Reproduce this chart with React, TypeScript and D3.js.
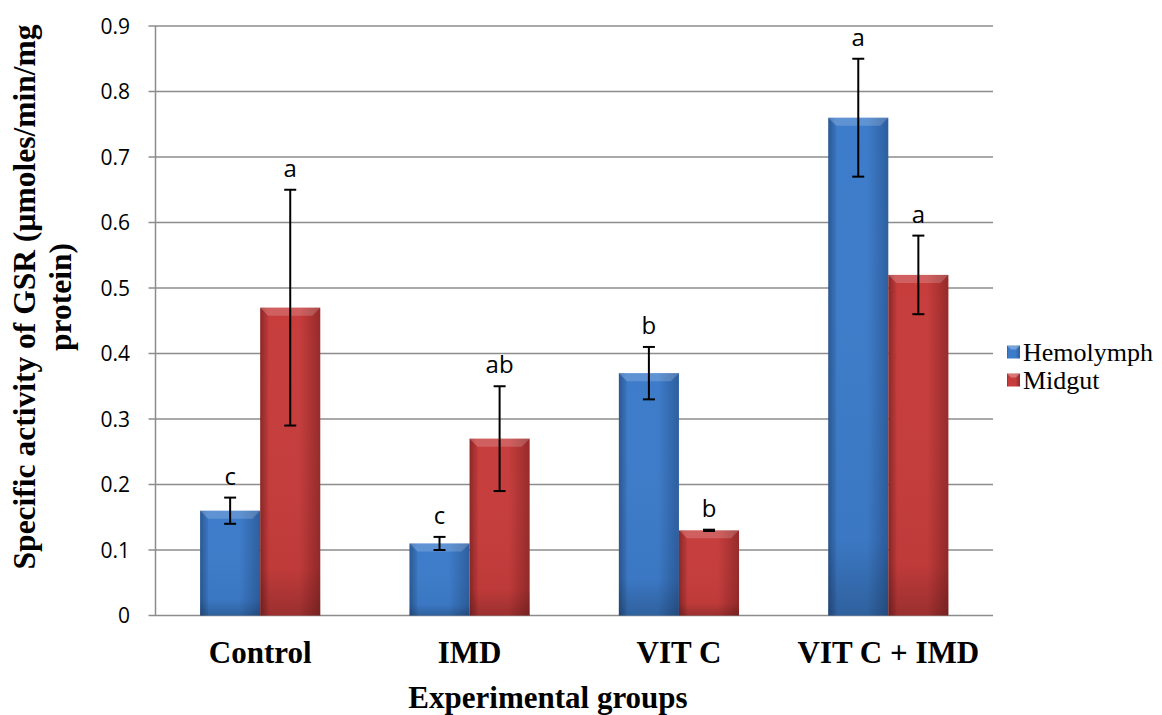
import React, { useEffect, useRef } from 'react';
import * as d3 from 'd3';

const groups = ['Control', 'IMD', 'VIT C', 'VIT C + IMD'];
const seriesNames = ['Hemolymph', 'Midgut'];
const hemolymph = [0.16, 0.11, 0.37, 0.76];
const hemolymphErr = [0.02, 0.01, 0.04, 0.09];
const hemolymphLetters = ['c', 'c', 'b', 'a'];
const midgut = [0.47, 0.27, 0.13, 0.52];
const midgutErr = [0.18, 0.08, 0.001, 0.06];
const midgutLetters = ['a', 'ab', 'b', 'a'];
const yTicks = [0, 0.1, 0.2, 0.3, 0.4, 0.5, 0.6, 0.7, 0.8, 0.9];

const App = () => {
  const svgRef = useRef<SVGSVGElement>(null);

  useEffect(() => {
    const svg = d3.select(svgRef.current);
    svg.selectAll('*').remove();

    const width = 1162;
    const height = 715;
    const left = 155.5;
    const right = 993;
    const top = 26;
    const bottom = 615.5;

    const sans = "'Open Sans', 'DejaVu Sans', sans-serif";
    const serif = "'Liberation Serif', 'Times New Roman', serif";

    const defs = svg.append('defs');
    const palettes = [
      { id: 'blue', dark: '#2d5e9e', mid: '#3d7cca' },
      { id: 'red', dark: '#962a2a', mid: '#c63d3c' },
    ];
    palettes.forEach(p => {
      const g = defs.append('linearGradient').attr('id', `grad-${p.id}`)
        .attr('x1', 0).attr('x2', 1).attr('y1', 0).attr('y2', 0);
      g.append('stop').attr('offset', '0%').attr('stop-color', p.dark);
      g.append('stop').attr('offset', '12%').attr('stop-color', p.mid);
      g.append('stop').attr('offset', '65%').attr('stop-color', p.mid);
      g.append('stop').attr('offset', '100%').attr('stop-color', p.dark);
      const v = defs.append('linearGradient').attr('id', `vgrad-${p.id}`)
        .attr('x1', 0).attr('x2', 0).attr('y1', 0).attr('y2', 1);
      v.append('stop').attr('offset', '0%').attr('stop-color', '#fff').attr('stop-opacity', 0);
      v.append('stop').attr('offset', '85%').attr('stop-color', '#000').attr('stop-opacity', 0.04);
      v.append('stop').attr('offset', '100%').attr('stop-color', '#000').attr('stop-opacity', 0.22);
    });

    svg.attr('width', width).attr('height', height)
      .style('position', 'absolute').style('left', '0px').style('top', '0px')
      .style('background', '#fff');

    const y = d3.scaleLinear().domain([0, 0.9]).range([bottom, top]);
    const x0 = d3.scaleBand().domain(groups).range([left, right]).paddingInner(0.426).paddingOuter(0.213);
    const x1 = d3.scaleBand().domain(seriesNames).range([0, x0.bandwidth()]);

    // gridlines
    svg.append('g').selectAll('line').data(yTicks).enter().append('line')
      .attr('x1', left - 7).attr('x2', right)
      .attr('y1', d => y(d)).attr('y2', d => y(d))
      .attr('stroke', '#8c8c8c').attr('stroke-width', 1.5);

    svg.append('line').attr('x1', left).attr('x2', left).attr('y1', top).attr('y2', bottom)
      .attr('stroke', '#8c8c8c').attr('stroke-width', 1.5);

    svg.append('g').selectAll('text').data(yTicks).enter().append('text')
      .attr('x', 130).attr('y', d => y(d)).attr('dy', '0.36em')
      .attr('text-anchor', 'end').style('font-family', sans).style('font-size', '21px')
      .text(d => (d === 0 ? '0' : d3.format('.1f')(d)));

    const series = [
      { name: 'Hemolymph', vals: hemolymph, err: hemolymphErr, letters: hemolymphLetters, pal: 'blue' },
      { name: 'Midgut', vals: midgut, err: midgutErr, letters: midgutLetters, pal: 'red' },
    ];

    series.forEach(s => {
      const g = svg.append('g');
      groups.forEach((grp, i) => {
        const bx = (x0(grp) as number) + (x1(s.name) as number);
        const bw = x1.bandwidth();
        const by = y(s.vals[i]);
        const bh = bottom - by;
        g.append('rect').attr('x', bx).attr('y', by).attr('width', bw).attr('height', bh)
          .attr('fill', `url(#grad-${s.pal})`);
        g.append('rect').attr('x', bx).attr('y', by).attr('width', bw).attr('height', bh)
          .attr('fill', `url(#vgrad-${s.pal})`);
        // bevel
        const bev = 8;
        g.append('polygon')
          .attr('points', `${bx},${by} ${bx + bw},${by} ${bx + bw - bev},${by + bev} ${bx + bev},${by + bev}`)
          .attr('fill', '#fff').attr('fill-opacity', 0.18);
        g.append('polygon')
          .attr('points', `${bx},${by} ${bx + bev},${by + bev} ${bx + bev},${bottom} ${bx},${bottom}`)
          .attr('fill', '#000').attr('fill-opacity', 0.07);

        // error bars
        const cx = bx + bw / 2;
        const hi = y(s.vals[i] + s.err[i]);
        const lo = y(s.vals[i] - s.err[i]);
        g.append('line').attr('x1', cx).attr('x2', cx).attr('y1', hi).attr('y2', lo)
          .attr('stroke', '#000').attr('stroke-width', 2);
        [hi, lo].forEach(yy => {
          g.append('line').attr('x1', cx - 6).attr('x2', cx + 6).attr('y1', yy).attr('y2', yy)
            .attr('stroke', '#000').attr('stroke-width', 2);
        });
        g.append('text').attr('x', cx).attr('y', hi - 13)
          .attr('text-anchor', 'middle').style('font-family', sans).style('font-size', '24px')
          .text(s.letters[i]);
      });
    });

    // x labels
    svg.append('g').selectAll('text').data(groups).enter().append('text')
      .attr('x', d => (x0(d) as number) + x0.bandwidth() / 2).attr('y', 663)
      .attr('text-anchor', 'middle').style('font-family', serif).style('font-size', '31px')
      .style('font-weight', 'bold').text(d => d);

    svg.append('text').attr('x', 548).attr('y', 708).attr('text-anchor', 'middle')
      .style('font-family', serif).style('font-size', '31px').style('font-weight', 'bold')
      .text('Experimental groups');

    const yl = svg.append('text').attr('transform', 'translate(0,297) rotate(-90)')
      .attr('text-anchor', 'middle').style('font-family', serif).style('font-size', '31.5px')
      .style('font-weight', 'bold');
    yl.append('tspan').attr('x', 0).attr('y', 35).text('Specific activity of GSR (µmoles/min/mg');
    yl.append('tspan').attr('x', 0).attr('y', 71).text('protein)');

    // legend
    const legend = svg.append('g').attr('transform', 'translate(1007,352)');
    series.forEach((s, i) => {
      const lg = legend.append('g').attr('transform', `translate(0,${i * 28})`);
      lg.append('rect').attr('x', 0).attr('y', -6.5).attr('width', 13).attr('height', 13)
        .attr('fill', `url(#grad-${s.pal})`);
      lg.append('polygon').attr('points', '0,-6.5 13,-6.5 9,-2.5 4,-2.5').attr('fill', '#fff').attr('fill-opacity', 0.3);
      lg.append('text').attr('x', 16).attr('y', 0).attr('dy', '0.33em')
        .style('font-family', serif).style('font-size', '26px').text(s.name);
    });
  }, []);

  return <svg ref={svgRef}></svg>;
};

export default App;
